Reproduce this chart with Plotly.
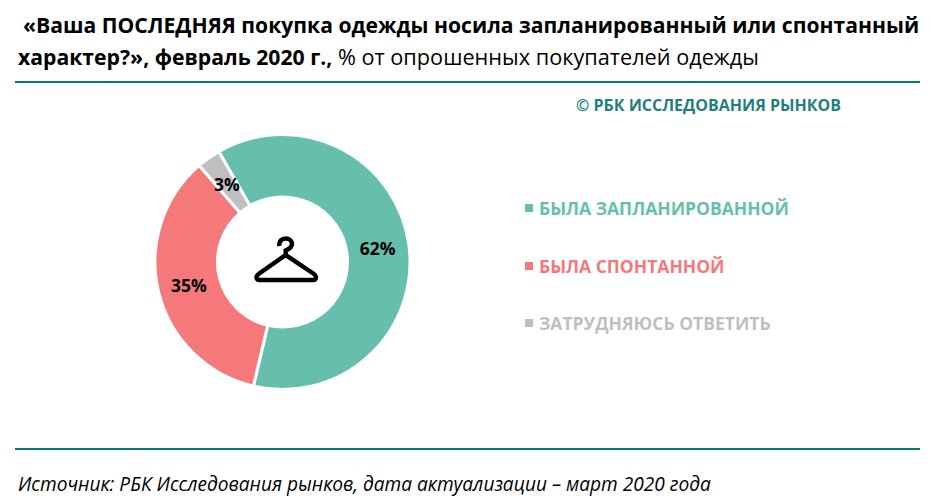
import math
import plotly.graph_objects as go

W = 934
H = 502

labels = ["БЫЛА ЗАПЛАНИРОВАННОЙ", "БЫЛА СПОНТАННОЙ", "ЗАТРУДНЯЮСЬ ОТВЕТИТЬ"]
values = [62, 35, 3]
colors = ["#66BFAD", "#F5787B", "#BFBFBF"]

title_line1 = "<b>«Ваша ПОСЛЕДНЯЯ покупка одежды носила запланированный или спонтанный</b>"
title_line2 = ("<b>характер?», февраль 2020 г.,</b> "
               "<span style='font-size:21.7px'>% от опрошенных покупателей одежды</span>")
copyright_text = "© РБК ИССЛЕДОВАНИЯ РЫНКОВ"
source_text = "<i>Источник: РБК Исследования рынков, дата актуализации – март 2020 года</i>"

FONT = "Open Sans"
TEAL = "#007C77"
ROTATION = -30
CX, CY, R = 282.5, 262, 127.5


def px(x):
    return x / W


def py(y):
    return 1 - y / H


def hanger_path():
    # coordinates in page pixels, flipped into paper space
    pts = [
        ("M", (279.5, 246)),
        ("C", (278.5, 241), (282, 238.5), (285.7, 238.5)),
        ("C", (289.5, 238.5), (292, 241), (292, 244)),
        ("C", (292, 247.5), (289, 249), (285.7, 250.5)),
        ("L", (285.7, 255)),
        ("L", (314, 274)),
        ("C", (317, 276), (316.5, 280), (313, 280)),
        ("L", (259.5, 280)),
        ("C", (256, 280), (255.5, 276), (258.5, 274)),
        ("L", (285.7, 255)),
    ]
    parts = []
    for p in pts:
        coords = " ".join(f"{px(x):.5f},{py(y):.5f}" for x, y in p[1:])
        parts.append(f"{p[0]} {coords}")
    return " ".join(parts)


fig = go.Figure()
fig.add_trace(go.Pie(
    labels=labels,
    values=values,
    sort=False,
    direction="clockwise",
    rotation=ROTATION,
    hole=0.51,
    marker=dict(colors=colors, line=dict(color="white", width=3)),
    text=[f"{values[0]}%", f"{values[1]}%", ""],
    textinfo="text",
    textposition="inside",
    insidetextorientation="horizontal",
    textfont=dict(family=FONT, size=17.5, color="black", weight="bold"),
    domain=dict(x=[px(CX - R), px(CX + R)], y=[py(CY + R), py(CY - R)]),
    showlegend=False,
    hoverinfo="label+percent",
))

annotations = []


def add_text(text, x, y, size, color="black", anchor="left"):
    annotations.append(dict(
        text=text, x=px(x), y=py(y), xref="paper", yref="paper",
        xanchor=anchor, yanchor="middle", showarrow=False,
        font=dict(family=FONT, size=size, color=color),
    ))


add_text(title_line1, 21, 25, 21.15)
add_text(title_line2, 16, 56, 21.2)
add_text(f"<b>{copyright_text}</b>", 574, 105, 16, "#1F7F80")
add_text(source_text, 16, 484, 19.1)

# the 3% slice is too thin for a fitted label, so it sits on the slice middle
gray_mid = math.radians(ROTATION - values[2] / sum(values) * 360 / 2)
add_text(f"<b>{values[2]}%</b>", CX + 0.75 * R * math.sin(gray_mid),
         CY - 0.75 * R * math.cos(gray_mid), 17.5, anchor="center")

shapes = []
for yy in [82, 449]:
    shapes.append(dict(type="line", xref="paper", yref="paper", x0=px(15), x1=px(920),
                       y0=py(yy), y1=py(yy), line=dict(color=TEAL, width=2)))

legend_y = [208, 266, 323]
for lab, col, yy in zip(labels, colors, legend_y):
    shapes.append(dict(type="rect", xref="paper", yref="paper",
                       x0=px(525), x1=px(533), y0=py(yy + 4), y1=py(yy - 4),
                       fillcolor=col, line=dict(width=0)))
    add_text(f"<b>{lab}</b>", 537, yy, 17.5, col)

shapes.append(dict(type="path", xref="paper", yref="paper", path=hanger_path(),
                   line=dict(color="black", width=4.5), fillcolor="rgba(0,0,0,0)"))

fig.update_layout(
    width=W,
    height=H,
    autosize=False,
    margin=dict(l=0, r=0, t=0, b=0),
    paper_bgcolor="white",
    plot_bgcolor="white",
    font=dict(family=FONT),
    annotations=annotations,
    shapes=shapes,
)

fig.write_html("out.html", config={"displayModeBar": False},
               post_script="document.body.style.margin='0';")
